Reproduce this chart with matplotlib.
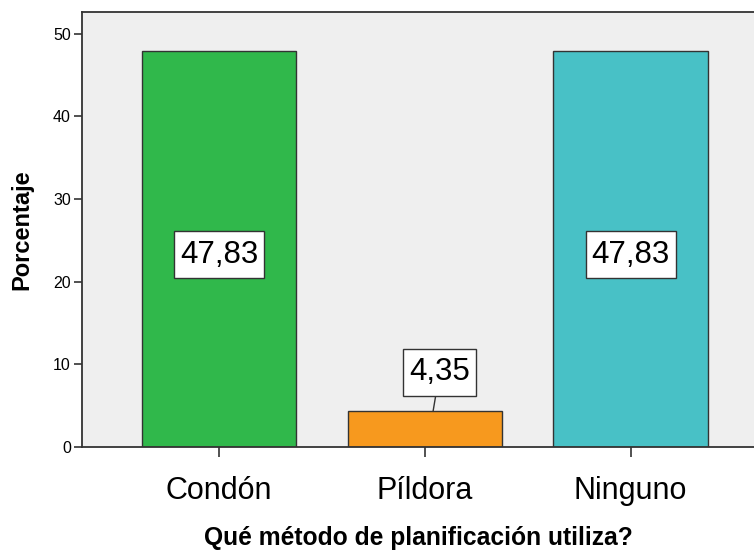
import matplotlib
matplotlib.use("Agg")
from matplotlib import pyplot as plt
from matplotlib.path import Path
import numpy as np

plt.rcParams['font.family'] = ['Liberation Sans', 'DejaVu Sans']

categories = ['Condón', 'Píldora', 'Ninguno']
percentages = [47.83, 4.35, 47.83]
value_labels = ['47,83', '4,35', '47,83']
bar_colors = ['#30B84B', '#F7991E', '#48C1C6']
y_ticks = [0, 10, 20, 30, 40, 50]


def label_box(x0, y0, width, height, mutation_size):
    # square box, more padding above/below than at the sides
    px = 0.19 * mutation_size
    py = 0.27 * mutation_size
    x0, y0 = x0 - px, y0 - py
    x1, y1 = x0 + width + 2 * px, y0 + height + 2 * py
    return Path([(x0, y0), (x1, y0), (x1, y1), (x0, y1), (x0, y0)],
                closed=True)


fig = plt.figure(figsize=(7.54, 5.51), dpi=100)
ax = fig.add_axes([82 / 754, 104 / 551, 672 / 754, 435 / 551])
ax.set_facecolor('#EFEFEF')

x = np.arange(len(categories))
ax.bar(x, percentages, width=0.75, color=bar_colors,
       edgecolor='#333333', linewidth=1.0, zorder=2)

box = dict(boxstyle=label_box, facecolor='white',
           edgecolor='#333333', linewidth=1.0)
for xi, v, lab in zip(x, percentages, value_labels):
    if v > 20:
        ax.annotate(lab, xy=(xi, v / 2), xytext=(0, -4),
                    textcoords='offset points', ha='center', va='center',
                    fontsize=22.5, bbox=box, zorder=4)
    else:
        ax.annotate(lab, xy=(xi + 0.04, v), xytext=(4.7, 28),
                    textcoords='offset points', ha='center', va='center',
                    fontsize=22.5, bbox=box, zorder=4,
                    arrowprops=dict(arrowstyle='-', color='#333333',
                                    linewidth=1.0, shrinkA=0, shrinkB=0))

ax.set_xlim(-0.667, 2.6)
ax.set_ylim(0, 52.6)
ax.set_yticks(y_ticks)
ax.set_xticks(x)
ax.set_xticklabels(categories, fontsize=22)
ax.tick_params(axis='y', labelsize=11.5, length=6, width=1.2,
               color='#333333', pad=2)
ax.tick_params(axis='x', length=7, width=1.2, color='#333333', pad=14)

for side in ('left', 'top', 'bottom'):
    ax.spines[side].set_color('#333333')
    ax.spines[side].set_linewidth(1.3)
ax.spines['right'].set_visible(False)

ax.set_xlabel('Qué método de planificación utiliza?', fontsize=17.7,
              fontweight='bold', labelpad=14)
ax.set_ylabel('Porcentaje', fontsize=17, fontweight='bold', labelpad=14)

plt.savefig('out.png', dpi=100)
plt.close()
